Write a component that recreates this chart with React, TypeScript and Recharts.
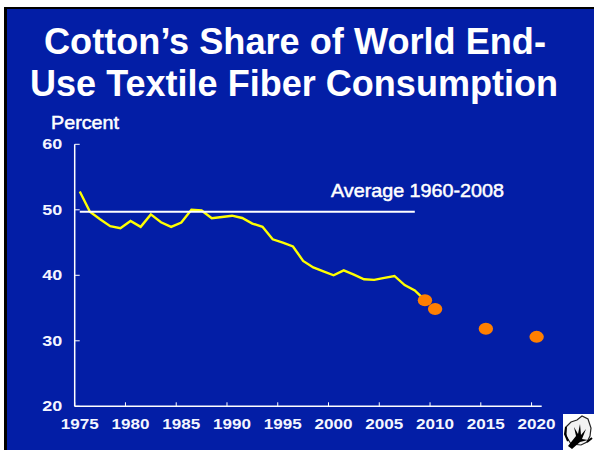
import { ComposedChart, Line, XAxis, YAxis } from 'recharts'

const years = [
  1975, 1976, 1977, 1978, 1979, 1980, 1981, 1982, 1983, 1984, 1985, 1986,
  1987, 1988, 1989, 1990, 1991, 1992, 1993, 1994, 1995, 1996, 1997, 1998,
  1999, 2000, 2001, 2002, 2003, 2004, 2005, 2006, 2007, 2008, 2009, 2010,
  2011, 2012, 2013, 2014, 2015, 2016, 2017, 2018, 2019, 2020,
]
const cottonShare = [
  52.8, 49.7, 48.55, 47.5, 47.2, 48.3, 47.4, 49.3, 48.1, 47.4, 48.05, 50.0,
  49.9, 48.7, 48.9, 49.1, 48.75, 47.9, 47.4, 45.5, 45.0, 44.4, 42.2, 41.2,
  40.6, 40.0, 40.75, 40.1, 39.4, 39.3, 39.6, 39.9, 38.5, 37.7, 36.2,
]
const projectionYears = [2009, 2010, 2015, 2020]
const projectionValues = [36.2, 34.85, 31.85, 30.6]
const averageValue = 49.7
const averageTo = 2008
const xTicks = [1975, 1980, 1985, 1990, 1995, 2000, 2005, 2010, 2015, 2020]
const yTicks = [20, 30, 40, 50, 60]

const data = years.map((year, i) => {
  const p = projectionYears.indexOf(year)
  return {
    year,
    cotton: i < cottonShare.length ? cottonShare[i] : null,
    average: year <= averageTo ? averageValue : null,
    projection: p >= 0 ? projectionValues[p] : null,
  }
})

const BLUE = '#031ea6'
const tickFont = { fontFamily: 'Liberation Sans', fontWeight: 700, fill: '#f4f6ff' }

function XTick({ x, y, payload }: any) {
  return (
    <g>
      <line x1={x - 5.07} x2={x - 5.07} y1={y} y2={y - 4} stroke="#fff" strokeWidth={1} />
      <text x={x} y={y + 23} textAnchor="middle" fontSize={15} textLength={38} lengthAdjust="spacingAndGlyphs" {...tickFont}>
        {payload.value}
      </text>
    </g>
  )
}

function YTick({ x, y, payload }: any) {
  return (
    <g>
      <line x1={x} x2={x + 5} y1={y} y2={y} stroke="#fff" strokeWidth={1} />
      <text x={x - 12.5} y={y + 5} textAnchor="end" fontSize={15} textLength={20} lengthAdjust="spacingAndGlyphs" {...tickFont}>
        {payload.value}
      </text>
    </g>
  )
}

function ProjectionDot({ cx, cy, index }: any) {
  if (cy == null) return <g key={index} />
  return <ellipse key={index} cx={cx} cy={cy} rx={7.2} ry={6} fill="#ff7f00" />
}

function CottonIcon() {
  return (
    <g transform="translate(563,414)">
      <rect width={31} height={36} fill="#fff" />
      <path d="M3 13 L8 8 L14 6 L19 2 L25 5 L28 14 L27 22 L24 28 L18 31 L8 30 L3 22 Z" fill="#f2f2f2" stroke="#222" strokeWidth={1.2} />
      <path d="M5 32 L13 22 L11 13 L15 20 L17 10 L18 21 L23 15 L19 25 L25 26 L17 28 L9 35 Z" fill="#000" />
      <path d="M3 13 L2 20 L5 27 M24 28 L29 24" fill="none" stroke="#000" strokeWidth={2} />
    </g>
  )
}

export default function App() {
  return (
    <div style={{ position: 'absolute', left: 0, top: 0, width: 594, height: 450, background: '#fff', overflow: 'hidden' }}>
      <div style={{ position: 'absolute', left: 4, top: 7, width: 590, height: 443, background: '#000' }} />
      <div style={{ position: 'absolute', left: 6.5, top: 9, width: 588, height: 441, background: BLUE }} />
      <div style={{ position: 'absolute', left: 0, top: 0 }}>
        <ComposedChart
          width={594}
          height={450}
          data={data}
          margin={{ top: 144.3, right: 52.3, bottom: 13.7, left: 24.7 }}
        >
          <XAxis
            dataKey="year"
            type="category"
            padding={{ left: 5.07, right: 5.07 }}
            ticks={xTicks}
            interval={0}
            height={30}
            axisLine={{ stroke: '#fff', strokeWidth: 1.5 }}
            tickLine={false}
            tickSize={0}
            tickMargin={0}
            tick={<XTick />}
          />
          <YAxis
            domain={[20, 60]}
            ticks={yTicks}
            width={50}
            interval={0}
            axisLine={{ stroke: '#fff', strokeWidth: 1.5 }}
            tickLine={false}
            tickSize={0}
            tickMargin={0}
            tick={<YTick />}
          />
          <Line
            dataKey="cotton"
            stroke="#ffff00"
            strokeWidth={2.4}
            dot={false}
            isAnimationActive={false}
          />
          <Line
            dataKey="average"
            stroke="#fff"
            strokeWidth={2}
            dot={false}
            activeDot={false}
            isAnimationActive={false}
          />
          <Line
            dataKey="projection"
            stroke="none"
            dot={<ProjectionDot />}
            activeDot={false}
            connectNulls={false}
            isAnimationActive={false}
          />
        </ComposedChart>
      </div>
      <svg width={594} height={450} style={{ position: 'absolute', left: 0, top: 0 }}>
        <g fontFamily="Liberation Sans" fill="#fff">
          <text x={44} y={54} fontSize={37} fontWeight={700} textLength={502} lengthAdjust="spacingAndGlyphs">
            Cotton’s Share of World End-
          </text>
          <text x={30} y={96} fontSize={37} fontWeight={700} textLength={528} lengthAdjust="spacingAndGlyphs">
            Use Textile Fiber Consumption
          </text>
          <text x={51} y={129} fontSize={19} textLength={68} lengthAdjust="spacingAndGlyphs" stroke="#fff" strokeWidth={0.5}>
            Percent
          </text>
          <text x={331} y={197} fontSize={19} textLength={173} lengthAdjust="spacingAndGlyphs" stroke="#fff" strokeWidth={0.5}>
            Average 1960-2008
          </text>
        </g>
        <CottonIcon />
      </svg>
    </div>
  )
}
